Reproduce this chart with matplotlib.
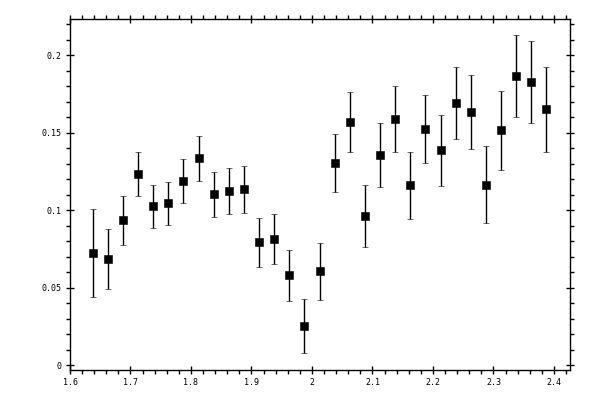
import numpy as np
import matplotlib
matplotlib.use('Agg')
import matplotlib.pyplot as plt
from matplotlib.ticker import MultipleLocator, FormatStrFormatter

# data
mass = [1.6375, 1.6625, 1.6875, 1.7125, 1.7375, 1.7625, 1.7875, 1.8125,
        1.8375, 1.8625, 1.8875, 1.9125, 1.9375, 1.9625, 1.9875, 2.0125,
        2.0375, 2.0625, 2.0875, 2.1125, 2.1375, 2.1625, 2.1875, 2.2125,
        2.2375, 2.2625, 2.2875, 2.3125, 2.3375, 2.3625, 2.3875]
value = [0.0721, 0.0685, 0.0935, 0.1232, 0.1025, 0.1044, 0.1187, 0.1335,
         0.1103, 0.1122, 0.1135, 0.0793, 0.0812, 0.0579, 0.0250, 0.0605,
         0.1303, 0.1568, 0.0960, 0.1354, 0.1587, 0.1161, 0.1522, 0.1387,
         0.1690, 0.1632, 0.1166, 0.1516, 0.1865, 0.1826, 0.1652]
error = [0.0284, 0.0193, 0.0159, 0.0142, 0.0139, 0.0139, 0.0143, 0.0146,
         0.0145, 0.0148, 0.0151, 0.0158, 0.0162, 0.0165, 0.0174, 0.0183,
         0.0188, 0.0194, 0.0200, 0.0207, 0.0213, 0.0217, 0.0220, 0.0229,
         0.0233, 0.0239, 0.0249, 0.0256, 0.0265, 0.0265, 0.0275]

fig = plt.figure(figsize=(6, 4), dpi=100)
ax = fig.add_axes([70/600, 30/400, 500/600, 351/400])

ax.errorbar(mass, value, yerr=error, fmt='s', color='black', ms=5.6,
            mew=0.4, elinewidth=1.0, capsize=2.0, capthick=1.0, mec='black')

ax.set_xlim(1.6, 2.4265)
ax.set_ylim(-0.0032, 0.2235)

ax.xaxis.set_major_locator(MultipleLocator(0.1))
ax.xaxis.set_minor_locator(MultipleLocator(0.02))
ax.yaxis.set_major_locator(MultipleLocator(0.05))
ax.yaxis.set_minor_locator(MultipleLocator(0.01))
ax.xaxis.set_major_formatter(FormatStrFormatter('%g'))
ax.yaxis.set_major_formatter(FormatStrFormatter('%g'))

ax.tick_params(which='major', direction='inout', length=6, width=1,
               top=True, right=True, labelsize=6, pad=3)
ax.tick_params(which='minor', direction='out', length=3, width=1,
               top=True, right=True)
for lab in ax.get_xticklabels() + ax.get_yticklabels():
    lab.set_family('DejaVu Sans Mono')
for s in ax.spines.values():
    s.set_linewidth(1)

fig.savefig('out.png', dpi=100)
